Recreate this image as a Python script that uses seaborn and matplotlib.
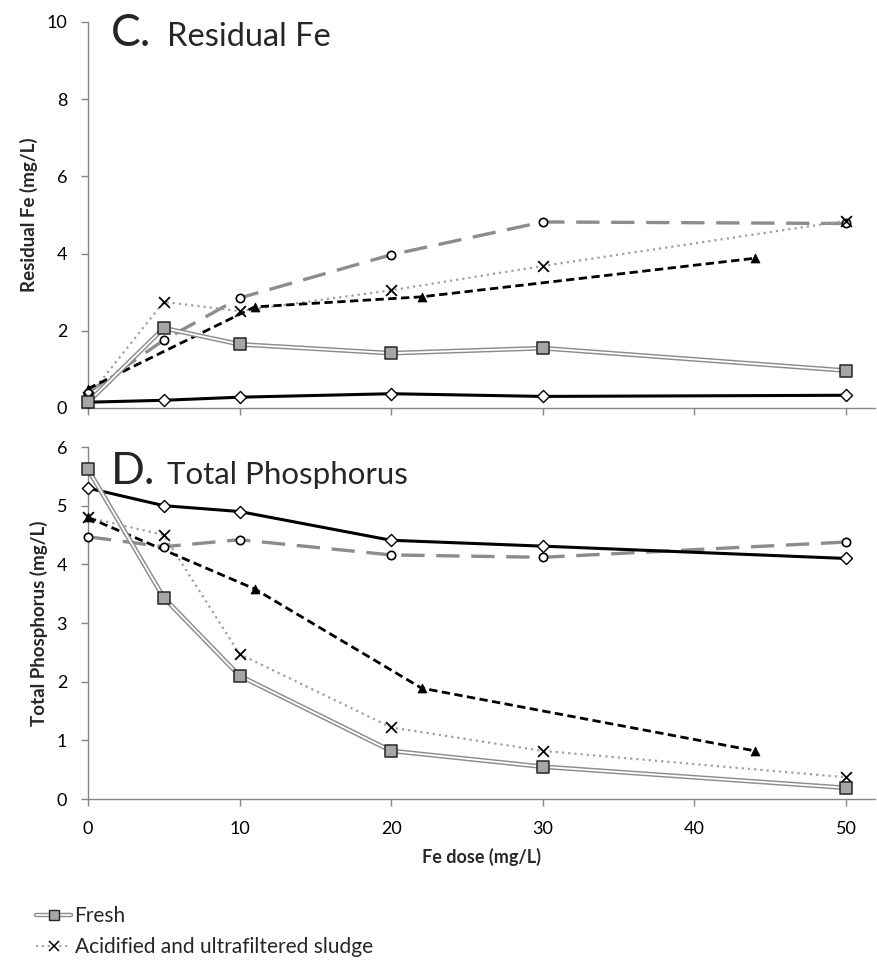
import matplotlib
matplotlib.use("Agg")
import matplotlib.pyplot as plt
import seaborn as sns
import pandas as pd
from matplotlib.lines import Line2D
from matplotlib.legend_handler import HandlerTuple

# ---------------- data ----------------
dose = [0, 5, 10, 20, 30, 50]
dose_tri = [0, 11, 22, 44]

fe_fresh = [0.15, 2.07, 1.65, 1.42, 1.55, 0.97]
fe_acid = [0.28, 2.75, 2.51, 3.05, 3.68, 4.85]
fe_diamond = [0.15, 0.20, 0.28, 0.37, 0.30, 0.33]
fe_circle = [0.40, 1.76, 2.85, 3.97, 4.82, 4.78]
fe_tri = [0.50, 2.62, 2.88, 3.88]

tp_fresh = [5.62, 3.43, 2.10, 0.82, 0.55, 0.19]
tp_acid = [4.80, 4.50, 2.47, 1.22, 0.82, 0.37]
tp_diamond = [5.30, 5.00, 4.90, 4.41, 4.31, 4.10]
tp_circle = [4.47, 4.30, 4.42, 4.16, 4.12, 4.38]
tp_tri = [4.80, 3.58, 1.89, 0.82]

legend_labels = ["Fresh", "Acidified and ultrafiltered sludge"]
xticks = [0, 10, 20, 30, 40, 50]

# ---------------- style ----------------
sns.set_theme(style="white")
plt.rcParams['font.family'] = ['Lato', 'DejaVu Sans']

W, H = 877, 961
fig = plt.figure(figsize=(W / 100, H / 100), dpi=100)

def fx(px):
    return px / W

def fy(py):
    return 1 - py / H

x_left, x_right = 88, 875
ax1 = fig.add_axes([fx(x_left), fy(408), fx(x_right - x_left), (408 - 22) / H])
ax2 = fig.add_axes([fx(x_left), fy(799), fx(x_right - x_left), (799 - 447) / H])

GRAY = "#868686"
XMAX = (x_right - x_left) / ((846 - 88) / 50)


def draw(ax, fresh, acid, diamond, circle, tri):
    # black triangles dashed
    dt = pd.DataFrame({"x": dose_tri, "y": tri})
    sns.lineplot(data=dt, x="x", y="y", ax=ax, color="black", lw=2.0,
                 linestyle=(0, (3.0, 1.6)), sort=False, estimator=None, zorder=3)
    sns.scatterplot(data=dt, x="x", y="y", ax=ax, marker="^", s=42, color="black",
                    edgecolor="black", linewidth=0.5, zorder=6)
    # gray long dash with circles
    dc = pd.DataFrame({"x": dose, "y": circle})
    sns.lineplot(data=dc, x="x", y="y", ax=ax, color="#8c8c8c", lw=2.4,
                 linestyle=(0, (7, 3.5)), sort=False, estimator=None, zorder=2)
    sns.scatterplot(data=dc, x="x", y="y", ax=ax, marker="o", s=36, color="white",
                    edgecolor="black", linewidth=1.2, zorder=6)
    # black solid with diamonds
    dd = pd.DataFrame({"x": dose, "y": diamond})
    sns.lineplot(data=dd, x="x", y="y", ax=ax, color="black", lw=2.2,
                 sort=False, estimator=None, zorder=3)
    sns.scatterplot(data=dd, x="x", y="y", ax=ax, marker="D", s=38, color="white",
                    edgecolor="black", linewidth=1.0, zorder=6)
    # acidified dotted gray with x
    da = pd.DataFrame({"x": dose, "y": acid})
    sns.lineplot(data=da, x="x", y="y", ax=ax, color="#a0a0a0", lw=1.6,
                 linestyle=(0, (1, 1.8)), sort=False, estimator=None, zorder=2)
    sns.scatterplot(data=da, x="x", y="y", ax=ax, marker="x", s=60, color="black",
                    linewidth=1.3, zorder=6)
    # fresh double line
    dfz = pd.DataFrame({"x": dose, "y": fresh})
    sns.lineplot(data=dfz, x="x", y="y", ax=ax, color="#8c8c8c", lw=3.4,
                 sort=False, estimator=None, zorder=4)
    sns.lineplot(data=dfz, x="x", y="y", ax=ax, color="white", lw=1.3,
                 sort=False, estimator=None, zorder=4)
    sns.scatterplot(data=dfz, x="x", y="y", ax=ax, marker="s", s=75, color="#a6a6a6",
                    edgecolor="#262626", linewidth=1.1, zorder=7)
    ax.set_xlim(0, XMAX)
    ax.set_xticks(xticks)
    for s in ["top", "right"]:
        ax.spines[s].set_visible(False)
    for s in ["left", "bottom"]:
        ax.spines[s].set_color(GRAY)
        ax.spines[s].set_linewidth(1.0)
    ax.tick_params(axis="both", which="both", direction="out", length=5,
                   width=1.0, color=GRAY, labelsize=13, labelcolor="black",
                   left=True, bottom=True)
    ax.tick_params(axis="y", pad=10)
    ax.tick_params(axis="x", pad=11)
    ax.set_xlabel("")
    ax.grid(False)
    for c in ax.collections + ax.lines:
        c.set_clip_on(False)


draw(ax1, fe_fresh, fe_acid, fe_diamond, fe_circle, fe_tri)
draw(ax2, tp_fresh, tp_acid, tp_diamond, tp_circle, tp_tri)

ax1.set_ylim(0, 10)
ax1.set_yticks([0, 2, 4, 6, 8, 10])
ax1.set_xticklabels([])
ax1.set_ylabel("Residual Fe (mg/L)", fontsize=13.5, fontweight="bold", labelpad=6)

ax2.set_ylim(0, 6)
ax2.set_yticks([0, 1, 2, 3, 4, 5, 6])
ax2.set_ylabel("Total Phosphorus (mg/L)", fontsize=13.5, fontweight="bold", labelpad=6)
ax2.set_xlabel("Fe dose (mg/L)", fontsize=13, fontweight="bold", labelpad=8)

# panel titles
fig.text(fx(111), fy(46), "C.", fontsize=32, va="baseline", ha="left")
fig.text(fx(167), fy(46), "Residual Fe", fontsize=23.5, va="baseline", ha="left")
fig.text(fx(111), fy(484), "D.", fontsize=32, va="baseline", ha="left")
fig.text(fx(167), fy(484), "Total Phosphorus", fontsize=22.5, va="baseline", ha="left")

# legend
h_fresh = (Line2D([], [], color="#8c8c8c", lw=3.2),
           Line2D([], [], color="white", lw=1.2),
           Line2D([], [], ls="none", marker="s", markersize=6.5, markerfacecolor="#a6a6a6",
                  markeredgecolor="#262626", markeredgewidth=1.0))
h_acid = (Line2D([], [], color="#a0a0a0", lw=1.5, linestyle=(0, (1, 1.8))),
          Line2D([], [], ls="none", marker="x", markersize=6.5, markeredgecolor="black",
                 markeredgewidth=1.1))
leg = fig.legend([h_fresh, h_acid], legend_labels,
                 handler_map={tuple: HandlerTuple(ndivide=1)},
                 loc="upper left", bbox_to_anchor=(fx(36), fy(906)),
                 frameon=False, fontsize=15, handlelength=1.7, handletextpad=0.15,
                 labelspacing=0.55, borderaxespad=0, borderpad=0)

fig.savefig("out.png", dpi=100)
